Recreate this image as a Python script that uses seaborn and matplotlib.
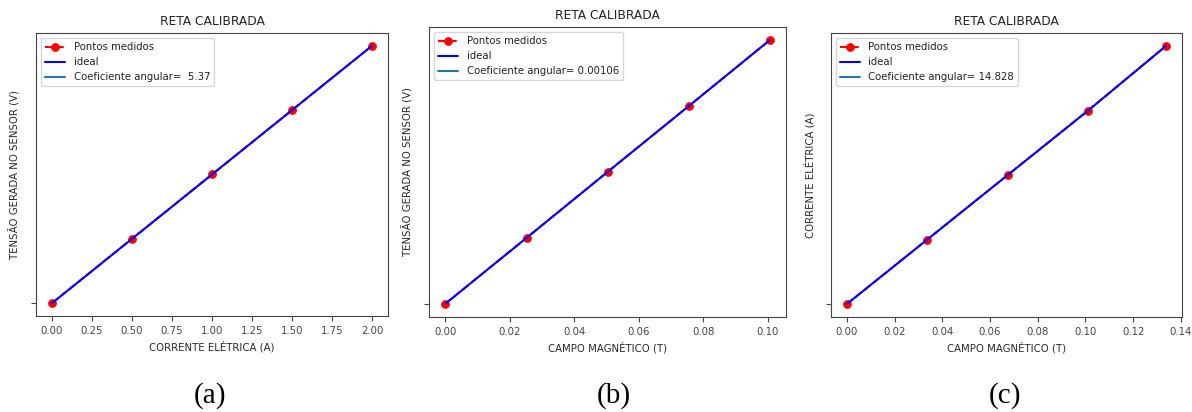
import numpy as np
import seaborn as sns
import matplotlib.pyplot as plt

# painel (a): tensao x corrente
corrente_a = [0.0, 0.5, 1.0, 1.5, 2.0]
tensao_a = [0.0, 2.685, 5.37, 8.055, 10.74]
ideal_a = [0.0, 2.685, 5.37, 8.055, 10.74]

# painel (b): tensao x campo
campo_b = [0.0, 0.0252, 0.0503, 0.0755, 0.1006]
tensao_b = [0.0, 2.685, 5.37, 8.055, 10.74]
ideal_b = [0.0, 2.685, 5.37, 8.055, 10.74]

# painel (c): corrente x campo
campo_c = [0.0, 0.0337, 0.0674, 0.1011, 0.1337]
corrente_c = [0.0, 0.5, 1.0, 1.5, 2.0]
ideal_c = [0.0, 0.5, 1.0, 1.5, 2.0]

coef = [' 5.37', '0.00106', '14.828']
xlabels = ['CORRENTE ELÉTRICA (A)', 'CAMPO MAGNÉTICO (T)', 'CAMPO MAGNÉTICO (T)']
ylabels = ['TENSÃO GERADA NO SENSOR (V)', 'TENSÃO GERADA NO SENSOR (V)', 'CORRENTE ELÉTRICA (A)']
letras = ['(a)', '(b)', '(c)']

sns.set_style('ticks')
plt.rcParams['font.family'] = ['DejaVu Sans']
plt.rcParams['font.size'] = 7.3
plt.rcParams['axes.edgecolor'] = '#444444'
plt.rcParams['xtick.color'] = '#444444'
plt.rcParams['ytick.color'] = '#444444'
plt.rcParams['text.color'] = '#222222'

fig = plt.figure(figsize=(11.92, 4.12), dpi=100)

posicoes = [[0.0302, 0.233, 0.2953, 0.687],
            [0.3599, 0.2306, 0.2995, 0.704],
            [0.697, 0.2306, 0.2945, 0.689]]
xs = [corrente_a, campo_b, campo_c]
ys = [tensao_a, tensao_b, corrente_c]
ideais = [ideal_a, ideal_b, ideal_c]
centros = [0.176, 0.515, 0.843]

for i in range(3):
    ax = fig.add_axes(posicoes[i])
    sns.lineplot(x=xs[i], y=ys[i], ax=ax, color='red', marker='o',
                 markersize=5.5, markeredgecolor='red', label='Pontos medidos', legend=False)
    sns.lineplot(x=xs[i], y=ideais[i], ax=ax, color='blue', label='ideal', legend=False)
    ax.plot([], [], color='#1f77b4', label='Coeficiente angular= ' + coef[i])
    linhas = ax.get_lines()
    linhas[0].set_linestyle((0, (3.7, 1.6)))
    ax.set_title('RETA CALIBRADA', fontsize=8.8)
    ax.set_xlabel(xlabels[i])
    ax.set_ylabel(ylabels[i])
    ax.set_yticks([0])
    ax.set_yticklabels([''])
    ax.legend(handles=linhas, labels=[l.get_label() for l in linhas],
              loc='upper left', fontsize=7.3, frameon=True)
    for s in ax.spines.values():
        s.set_visible(True)
    fig.text(centros[i], 0.04, letras[i], family='Liberation Serif', fontsize=21,
             ha='center', va='center', color='black')

plt.savefig('out.png', dpi=100)
